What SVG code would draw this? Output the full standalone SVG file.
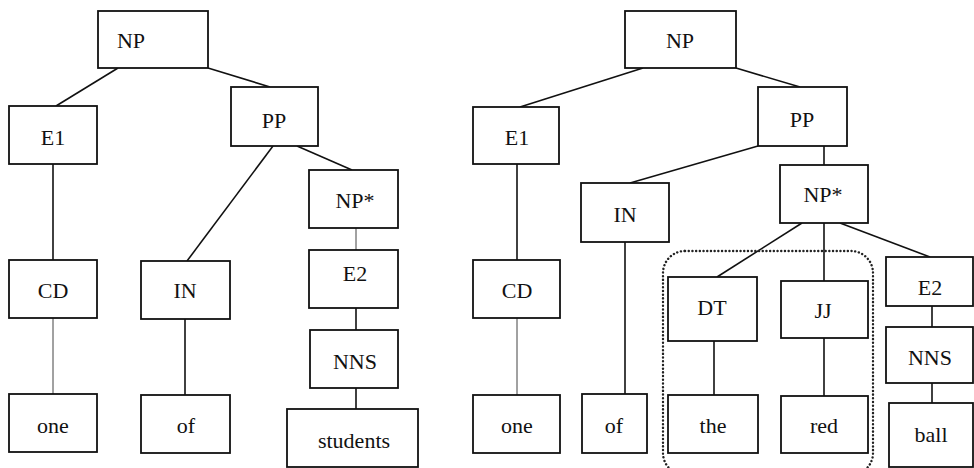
<svg xmlns="http://www.w3.org/2000/svg" width="974" height="468" viewBox="0 0 974 468">
<style>
rect.n{fill:#fff;stroke:#111;stroke-width:1.8}
text{font-size:22px;fill:#111;text-anchor:middle}
.e line{stroke:#111;stroke-width:1.6}
.e line.t{stroke:#444;stroke-width:1}
</style>
<rect width="974" height="468" fill="#fff"/>
<g class="e">
<line x1="118" y1="68" x2="56" y2="106"/>
<line x1="208" y1="68" x2="270" y2="87"/>
<line x1="53" y1="164" x2="53" y2="260"/>
<line class="t" x1="53" y1="318" x2="53" y2="394"/>
<line x1="273" y1="146" x2="187" y2="261"/>
<line x1="185" y1="319" x2="185" y2="395"/>
<line x1="297" y1="146" x2="352" y2="170"/>
<line class="t" x1="356" y1="228" x2="356" y2="250"/>
<line x1="356" y1="308" x2="356" y2="330"/>
<line x1="356" y1="388" x2="356" y2="409"/>
<line x1="643" y1="68" x2="520" y2="107"/>
<line x1="736" y1="68" x2="800" y2="87"/>
<line x1="517" y1="164" x2="517" y2="260"/>
<line class="t" x1="517" y1="318" x2="517" y2="395"/>
<line x1="758" y1="146" x2="630" y2="183"/>
<line x1="625" y1="242" x2="625" y2="394"/>
<line x1="824" y1="145" x2="824" y2="165"/>
<line x1="802" y1="223" x2="717" y2="277"/>
<line x1="824" y1="223" x2="824" y2="281"/>
<line x1="840" y1="223" x2="930" y2="257"/>
<line x1="714" y1="341" x2="714" y2="395"/>
<line x1="824" y1="338" x2="824" y2="396"/>
<line x1="932" y1="306" x2="932" y2="327"/>
<line x1="932" y1="383" x2="932" y2="403"/>
</g>
<rect x="663" y="251" width="210" height="224" rx="22" ry="22" fill="none" stroke="#222" stroke-width="2.4" stroke-dasharray="0.1 3.6" stroke-linecap="round"/>
<g font-family="Liberation Serif, Times New Roman, serif">
<g id="l-np"><rect class="n" x="98" y="11" width="110" height="57"/><text x="131" y="48">NP</text></g>
<g id="l-e1"><rect class="n" x="9" y="106" width="88" height="58"/><text x="53" y="145">E1</text></g>
<g id="l-pp"><rect class="n" x="231" y="87" width="87" height="59"/><text x="274" y="128">PP</text></g>
<g id="l-cd"><rect class="n" x="9" y="260" width="88" height="58"/><text x="53" y="298">CD</text></g>
<g id="l-one"><rect class="n" x="9" y="394" width="88" height="58"/><text x="53" y="433">one</text></g>
<g id="l-in"><rect class="n" x="141" y="261" width="89" height="58"/><text x="185" y="298">IN</text></g>
<g id="l-of"><rect class="n" x="141" y="395" width="89" height="58"/><text x="186" y="433">of</text></g>
<g id="l-npstar"><rect class="n" x="309" y="170" width="89" height="58"/><text x="355" y="208">NP*</text></g>
<g id="l-e2"><rect class="n" x="309" y="250" width="89" height="58"/><text x="355" y="281">E2</text></g>
<g id="l-nns"><rect class="n" x="310" y="330" width="88" height="58"/><text x="355" y="369">NNS</text></g>
<g id="l-students"><rect class="n" x="287" y="409" width="131" height="58"/><text x="354" y="448">students</text></g>
<g id="r-np"><rect class="n" x="625" y="11" width="111" height="57"/><text x="680" y="48">NP</text></g>
<g id="r-e1"><rect class="n" x="473" y="107" width="86" height="57"/><text x="517" y="145">E1</text></g>
<g id="r-pp"><rect class="n" x="758" y="87" width="89" height="59"/><text x="802" y="127">PP</text></g>
<g id="r-cd"><rect class="n" x="473" y="260" width="87" height="58"/><text x="517" y="298">CD</text></g>
<g id="r-one"><rect class="n" x="473" y="395" width="87" height="58"/><text x="517" y="433">one</text></g>
<g id="r-in"><rect class="n" x="581" y="183" width="88" height="59"/><text x="625" y="222">IN</text></g>
<g id="r-of"><rect class="n" x="582" y="394" width="65" height="59"/><text x="614" y="433">of</text></g>
<g id="r-npstar"><rect class="n" x="780" y="165" width="88" height="58"/><text x="823" y="202">NP*</text></g>
<g id="r-dt"><rect class="n" x="668" y="277" width="89" height="64"/><text x="712" y="315">DT</text></g>
<g id="r-jj"><rect class="n" x="781" y="281" width="87" height="57"/><text x="823" y="318">JJ</text></g>
<g id="r-e2"><rect class="n" x="886" y="257" width="87" height="49"/><text x="930" y="295">E2</text></g>
<g id="r-the"><rect class="n" x="668" y="395" width="90" height="58"/><text x="713" y="433">the</text></g>
<g id="r-red"><rect class="n" x="781" y="396" width="87" height="57"/><text x="824" y="433">red</text></g>
<g id="r-nns"><rect class="n" x="886" y="327" width="87" height="56"/><text x="930" y="365">NNS</text></g>
<g id="r-ball"><rect class="n" x="889" y="403" width="84" height="64"/><text x="931" y="442">ball</text></g>
</g>
</svg>
